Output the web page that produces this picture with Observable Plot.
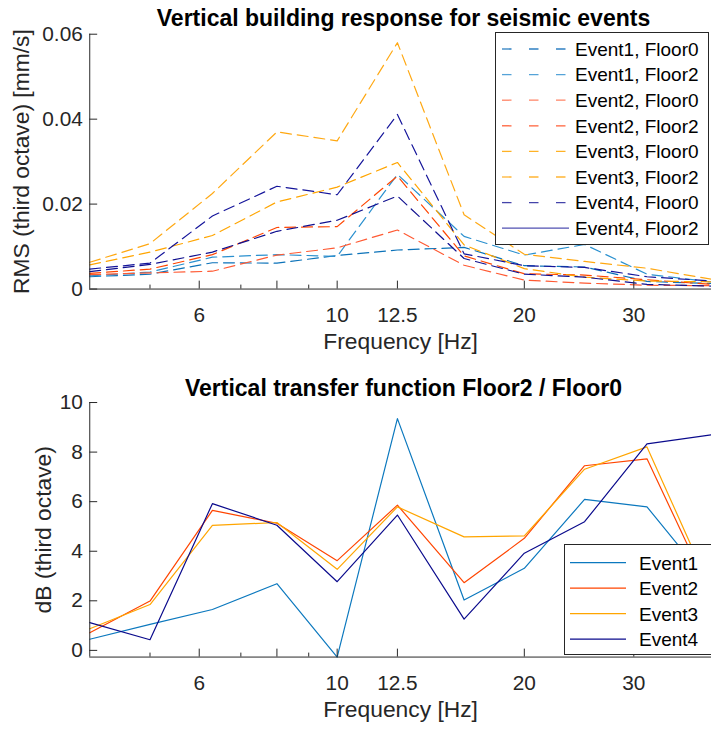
<!DOCTYPE html>
<html>
<head>
<meta charset="utf-8">
<script src="https://cdn.jsdelivr.net/npm/d3@7"></script>
<script src="https://cdn.jsdelivr.net/npm/@observablehq/plot@0.6"></script>
<style>
html, body { margin: 0; padding: 0; background: #fff; overflow: hidden; }
#fig { position: relative; width: 711px; height: 729px; overflow: hidden; font-family: "Liberation Sans", Arial, sans-serif; background: #fff; }
.title { position: absolute; left: 90px; width: 627px; text-align: center; font-weight: bold; font-size: 23px; line-height: 23px; color: #000; white-space: nowrap; }
.panel { position: absolute; left: 0; }
.legend { position: absolute; }
</style>
</head>
<body>
<div id="fig">
  <div class="title" style="top:7px">Vertical building response for seismic events</div>
  <div class="title" style="top:377px">Vertical transfer function Floor2 / Floor0</div>
  <div class="panel" id="p1" style="top:0px"></div>
  <div class="panel" id="p2" style="top:370px"></div>
  <div class="legend" id="leg1" style="left:495px; top:32px"></div>
  <div class="legend" id="leg2" style="left:564px; top:544px"></div>
</div>
<script>
// ---- Data ----
const freqs = [4, 5, 6.3, 8, 10, 12.5, 16, 20, 25, 31.5, 40];
const xTicks = [6, 8, 10, 12.5, 20, 30];
const xMinorTicks = [5, 7, 9];
const rmsTicks = [0, 0.02, 0.04, 0.06];
const dbTicks = [0, 2, 4, 6, 8, 10];

const rmsNames = ["Event1, Floor0", "Event1, Floor2", "Event2, Floor0", "Event2, Floor2",
                  "Event3, Floor0", "Event3, Floor2", "Event4, Floor0", "Event4, Floor2"];
const e1f0 = [0.0029, 0.0035, 0.0062, 0.0061, 0.0079, 0.0092, 0.0098, 0.0055, 0.0052, 0.0018, 0.0013];
const e1f2 = [0.0031, 0.0040, 0.0075, 0.0081, 0.0077, 0.0270, 0.0124, 0.0080, 0.0105, 0.0035, 0.0017];
const e2f0 = [0.0034, 0.0038, 0.0042, 0.0080, 0.0097, 0.0139, 0.0056, 0.0021, 0.0014, 0.0009, 0.0008];
const e2f2 = [0.0037, 0.0047, 0.0081, 0.0145, 0.0147, 0.0266, 0.0078, 0.0036, 0.0033, 0.0022, 0.0011];
const e3f0 = [0.0057, 0.0087, 0.0126, 0.0205, 0.0240, 0.0298, 0.0104, 0.0048, 0.0028, 0.0019, 0.0017];
const e3f2 = [0.0063, 0.0107, 0.0225, 0.0370, 0.0349, 0.0580, 0.0175, 0.0082, 0.0065, 0.0049, 0.0023];
const e4f0 = [0.0041, 0.0058, 0.0087, 0.0136, 0.0162, 0.0219, 0.0072, 0.0035, 0.0028, 0.0011, 0.0007];
const e4f2 = [0.0047, 0.0061, 0.0172, 0.0242, 0.0222, 0.0411, 0.0083, 0.0055, 0.0051, 0.0029, 0.0019];

const tfNames = ["Event1", "Event2", "Event3", "Event4"];
const tf1 = [0.45, 1.05, 1.65, 2.69, -0.27, 9.35, 2.03, 3.31, 6.09, 5.79, 2.6];
const tf2 = [0.71, 1.99, 5.65, 5.13, 3.62, 5.86, 2.73, 4.52, 7.45, 7.73, 2.2];
const tf3 = [0.87, 1.85, 5.04, 5.16, 3.27, 5.79, 4.58, 4.62, 7.31, 8.21, 2.4];
const tf4 = [1.12, 0.43, 5.92, 5.05, 2.77, 5.46, 1.26, 3.92, 5.19, 8.33, 8.7];

// ---- Styles ----
const rmsColors = ["#0B72B9", "#2A90CF", "#FF5A33", "#FF4500", "#FFA500", "#FFA812", "#10108F", "#14149A"];
const rmsLegendColors = ["#2F80C2", "#55A3D8", "#FF8466", "#FF6038", "#FFB226", "#FFB535", "#4444AA", "#5050B2"];
const tfColors = ["#0B78BE", "#FF4500", "#FFA500", "#0A0A8C"];
const axisColor = "#262626";
const font = "Liberation Sans, Arial, sans-serif";

const rmsSeries = [e1f0, e1f2, e2f0, e2f2, e3f0, e3f2, e4f0, e4f2];
const tfSeries = [tf1, tf2, tf3, tf4];

function rows(values) { return freqs.map((f, i) => ({f, v: values[i]})); }

function axesMarks(yTicks, yFmt, yMin, xLabel, yLabel, yLabelDx) {
  return [
    Plot.ruleX([freqs[0]], {stroke: axisColor, strokeWidth: 1}),
    Plot.ruleY([yMin], {stroke: axisColor, strokeWidth: 1}),
    Plot.axisX(xTicks, {tickSize: -8, tickPadding: 26, tickFormat: d => String(d), color: axisColor, fontSize: 21, label: null}),
    Plot.axisX(xMinorTicks, {tickSize: -4, tickFormat: () => "", color: axisColor, label: null}),
    Plot.axisY(yTicks, {tickSize: -8, tickPadding: 15, tickFormat: yFmt, color: axisColor, fontSize: 21, label: null}),
    Plot.text([xLabel], {frameAnchor: "bottom", dy: 53, lineAnchor: "middle", textAnchor: "middle", fontSize: 23, fill: axisColor}),
    Plot.text([yLabel], {frameAnchor: "left", dx: yLabelDx, rotate: -90, lineAnchor: "middle", textAnchor: "middle", fontSize: 23, fill: axisColor})
  ];
}

// ---- Top chart ----
const chart1 = Plot.plot({
  width: 717, height: 360,
  marginLeft: 90, marginRight: 0, marginTop: 34, marginBottom: 69,
  x: {type: "log", domain: [4, 40], axis: null},
  y: {domain: [0, 0.06], axis: null},
  style: {fontFamily: font, color: axisColor, background: "transparent", overflow: "visible"},
  marks: [
    ...rmsSeries.map((s, i) => Plot.line(rows(s), {x: "f", y: "v", stroke: rmsColors[i], strokeWidth: 1.2, strokeDasharray: "11,6"})),
    ...axesMarks(rmsTicks, d => d === 0 ? "0" : d.toFixed(2), 0, "Frequency [Hz]", "RMS (third octave) [mm/s]", -69)
  ]
});
document.getElementById("p1").appendChild(chart1);

// ---- Bottom chart ----
const chart2 = Plot.plot({
  width: 717, height: 359,
  marginLeft: 90, marginRight: 0, marginTop: 32.3, marginBottom: 70,
  x: {type: "log", domain: [4, 40], axis: null},
  y: {domain: [-0.27, 10], axis: null},
  style: {fontFamily: font, color: axisColor, background: "transparent", overflow: "visible"},
  marks: [
    ...tfSeries.map((s, i) => Plot.line(rows(s), {x: "f", y: "v", stroke: tfColors[i], strokeWidth: 1.2})),
    ...axesMarks(dbTicks, d => String(d), -0.27, "Frequency [Hz]", "dB (third octave)", -46.5)
  ]
});
document.getElementById("p2").appendChild(chart2);

// ---- Legends ----
function legend(id, names, colors, dashes, opt) {
  const svg = d3.select("#" + id).append("svg")
    .attr("width", opt.w).attr("height", opt.h)
    .style("display", "block").style("font-family", font);
  svg.append("rect").attr("x", 0.5).attr("y", 0.5).attr("width", opt.w - 1).attr("height", opt.h - 1)
    .attr("fill", "#fff").attr("stroke", axisColor).attr("stroke-width", 1);
  names.forEach((n, i) => {
    const y = opt.y0 + opt.dy * i;
    svg.append("line").attr("x1", opt.x1).attr("x2", opt.x2).attr("y1", y).attr("y2", y)
      .attr("stroke", colors[i]).attr("stroke-width", 1.3)
      .attr("stroke-dasharray", dashes[i] || null);
    svg.append("text").attr("x", opt.tx).attr("y", y).attr("dy", "0.36em")
      .attr("font-size", 19).attr("fill", "#000").text(n);
  });
}
legend("leg1", rmsNames, rmsLegendColors,
  ["9.5,17.5", "9.5,17.5", "9.5,17.5", "9.5,17.5", "9.5,17.5", "9.5,17.5", "9.5,17.5", null],
  {w: 214, h: 213, y0: 17, dy: 25.6, x1: 7, x2: 74, tx: 80});
legend("leg2", tfNames, tfColors, [null, null, null, null],
  {w: 170, h: 111, y0: 18.7, dy: 25.5, x1: 6, x2: 62, tx: 75});
</script>
</body>
</html>
